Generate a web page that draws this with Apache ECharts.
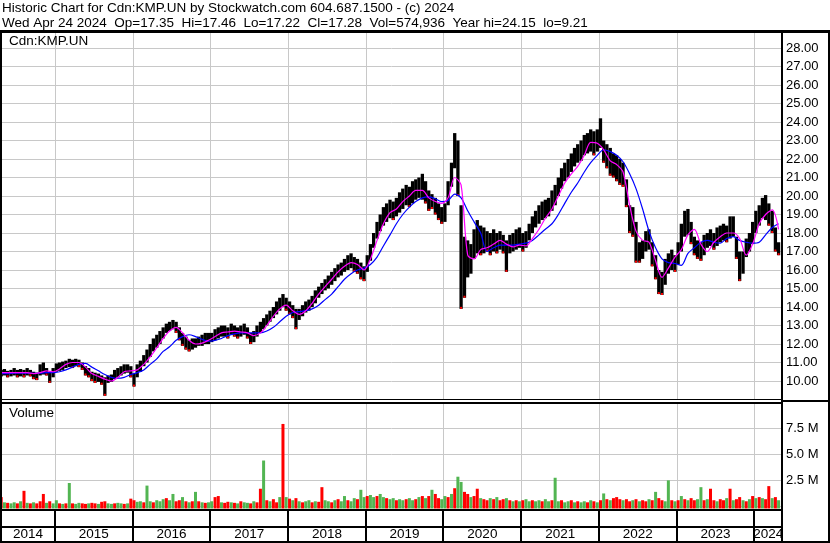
<!DOCTYPE html>
<html><head><meta charset="utf-8">
<script src="https://cdn.jsdelivr.net/npm/echarts@6/dist/echarts.min.js"></script>
<style>html,body{margin:0;padding:0;background:#fff}#c{width:830px;height:543px}</style>
</head><body><div id="c"></div>
<script>
const titleLine1 = 'Historic Chart for Cdn:KMP.UN by Stockwatch.com 604.687.1500 - (c) 2024';
const titleLine2 = 'Wed Apr 24 2024  Op=17.35  Hi=17.46  Lo=17.22  Cl=17.28  Vol=574,936  Year hi=24.15  lo=9.21';
const symbolLabel = 'Cdn:KMP.UN';
const volumeLabel = 'Volume';
const years = [2014, 2015, 2016, 2017, 2018, 2019, 2020, 2021, 2022, 2023, 2024];
const priceTicks = [10, 11, 12, 13, 14, 15, 16, 17, 18, 19, 20, 21, 22, 23, 24, 25, 26, 27, 28];
const volumeTicks = [2.5, 5, 7.5];
// half-monthly samples from 2014-04-24 to 2024-04-24 (241 samples)
const firstDay = [2014, 3, 24];
const totalDays = 3653;
const lows = [
10.25,10.3,10.2,10.25,10.3,10.2,10.25,10.2,10.3,10.25,
10.1,10.05,10.3,10.35,10.3,9.9,10.2,10.5,10.55,10.6,
10.7,10.75,10.7,10.8,10.75,10.6,10.3,10.2,10.0,9.9,
9.95,9.8,9.2,9.9,9.95,10.1,10.2,10.3,10.4,10.45,
10.2,9.7,10.2,10.5,10.8,11.0,11.3,11.6,11.8,12.0,
12.3,12.6,12.7,12.8,12.6,12.2,11.9,11.7,11.6,11.7,
11.8,11.9,11.9,12.0,12.0,12.1,12.2,12.3,12.4,12.4,
12.3,12.5,12.4,12.3,12.4,12.5,12.3,12.0,12.1,12.4,
12.6,12.8,13.0,13.2,13.4,13.6,13.8,14.0,13.8,13.6,
13.4,12.8,13.3,13.5,13.7,13.8,14.0,14.2,14.5,14.7,
14.9,15.0,15.2,15.4,15.6,15.7,15.9,16.0,16.1,15.9,
15.8,15.5,15.4,15.9,16.5,17.2,17.7,18.1,18.4,18.6,
18.8,18.7,18.9,19.1,19.3,19.5,19.4,19.6,19.8,19.9,
19.8,19.6,19.2,19.3,19.0,18.7,18.5,18.6,19.5,20.5,
21.5,20.0,13.9,14.5,15.6,15.8,16.6,16.9,16.8,16.9,
17.0,16.8,17.0,16.9,17.1,16.9,15.9,16.9,17.0,17.1,
17.2,17.0,17.2,17.6,18.0,18.3,18.5,18.7,18.8,18.9,
19.2,19.5,20.0,20.4,20.8,21.0,21.3,21.6,21.8,21.9,
22.2,22.3,22.4,22.2,22.4,22.6,21.8,21.5,21.1,21.0,
20.8,20.6,20.5,19.4,18.0,17.8,16.4,16.4,16.6,17.0,
17.1,16.2,15.5,14.7,14.65,15.2,15.8,16.0,15.9,16.3,
17.0,17.8,17.9,17.4,16.8,16.6,16.5,16.8,17.2,17.3,
17.1,17.3,17.5,17.6,17.5,17.7,17.8,16.6,15.4,15.8,
16.7,17.0,17.4,18.0,18.4,18.8,18.7,18.4,18.0,17.0,
16.8];
const highs = [
10.6,10.65,10.55,10.6,10.7,10.6,10.65,10.6,10.7,10.6,
10.5,10.45,10.9,11.0,10.7,10.5,10.7,10.95,11.0,11.05,
11.1,11.2,11.15,11.2,11.15,11.0,10.8,10.7,10.5,10.45,
10.4,10.3,10.2,10.3,10.35,10.6,10.7,10.8,10.9,10.9,
10.8,10.4,10.9,11.1,11.4,11.7,12.0,12.3,12.5,12.7,
12.9,13.1,13.2,13.3,13.2,12.9,12.6,12.4,12.2,12.3,
12.3,12.4,12.5,12.6,12.6,12.6,12.8,12.9,13.0,13.0,
12.9,13.1,13.0,12.9,13.0,13.1,12.9,12.6,12.7,13.0,
13.2,13.4,13.6,13.8,14.0,14.3,14.5,14.7,14.5,14.3,
14.1,13.9,13.9,14.1,14.3,14.4,14.6,14.9,15.1,15.3,
15.5,15.7,15.9,16.1,16.3,16.4,16.6,16.8,16.9,16.7,
16.6,16.4,16.2,16.8,17.4,18.0,18.6,19.0,19.4,19.6,
19.8,19.7,19.9,20.2,20.4,20.6,20.5,20.8,20.9,21.0,
21.2,20.8,20.3,20.1,19.9,19.6,19.4,19.6,20.8,21.8,
23.4,23.0,19.5,17.8,17.6,17.4,18.2,18.7,18.4,18.3,
18.1,18.0,18.2,18.0,18.1,17.9,17.6,17.9,18.0,18.2,
18.3,18.0,18.1,18.5,18.9,19.2,19.5,19.7,19.8,19.9,
20.3,20.6,21.0,21.5,21.8,22.0,22.3,22.6,22.8,23.0,
23.3,23.4,23.6,23.5,23.6,24.2,23.0,22.8,22.6,22.3,
22.2,22.0,21.8,20.9,19.5,19.4,18.6,17.5,17.6,18.1,
18.2,17.5,16.8,16.0,15.9,16.6,16.9,17.1,16.8,17.5,
18.5,19.2,19.3,18.6,17.8,17.6,17.5,17.9,18.0,18.2,
18.0,18.3,18.4,18.5,18.4,18.9,18.9,17.8,17.0,17.0,
17.7,18.0,18.6,19.2,19.5,19.9,20.05,19.6,19.2,18.3,
17.5];
// volume in millions
const volumes = [
0.9,0.4,0.35,0.3,0.4,0.3,0.5,1.5,0.35,0.3,
0.4,0.3,0.5,1.2,0.35,0.5,0.3,0.6,0.3,0.25,
0.3,2.25,0.3,0.25,0.35,0.3,0.25,0.3,0.35,0.3,
0.25,0.45,0.5,0.3,0.25,0.3,0.35,0.3,0.25,0.3,
0.75,0.6,0.45,0.5,0.4,2.0,0.5,0.4,0.6,0.5,
0.7,0.8,0.6,1.2,0.5,0.6,0.9,0.5,0.4,0.5,
1.4,0.5,0.4,0.35,0.4,0.5,0.9,1.0,0.4,0.35,
0.45,0.4,0.35,0.3,0.5,0.4,0.35,0.3,0.5,0.4,
1.7,4.4,0.6,0.5,0.7,0.4,0.9,7.9,0.9,0.75,
0.6,0.8,0.5,0.4,0.5,0.6,0.4,0.5,0.45,1.85,
0.6,0.5,0.4,0.6,0.7,0.5,1.0,0.6,0.5,0.8,
0.7,1.6,0.9,1.0,1.1,0.9,1.0,1.2,0.9,0.8,
0.7,0.8,0.6,0.7,0.6,0.7,0.8,0.6,0.7,0.9,
1.0,0.8,1.0,1.6,1.2,0.8,0.7,1.0,0.9,1.2,
1.75,2.85,2.35,1.4,1.2,0.9,1.0,1.7,0.8,0.7,
0.6,0.8,0.7,0.9,0.6,0.7,0.8,0.6,0.5,0.6,
0.5,0.6,0.7,0.5,0.6,0.5,0.6,0.5,0.7,0.5,
0.6,2.75,0.5,0.6,0.4,0.5,0.6,0.4,0.5,0.4,
0.5,0.4,0.6,0.5,0.4,0.6,1.25,0.7,0.6,0.8,
0.9,0.7,0.6,0.7,0.5,0.6,0.7,0.5,0.6,0.5,
0.7,0.6,1.4,0.8,0.6,0.5,2.5,0.6,0.5,0.6,
1.0,0.7,0.6,0.8,0.6,0.7,1.85,0.6,0.7,1.7,
0.6,0.5,0.7,0.6,0.8,1.7,0.6,0.7,0.9,0.6,
0.5,0.7,1.0,0.8,0.9,0.8,0.7,1.95,0.8,0.9,
0.6];
// volume bar colour per sample: r = down (red), g = up (green)
const volumeSide =
'rgrggrgrgr' + 'grrrgrggrg' + 'rgrggrrgrr' + 'grrggrggrg' + 'rrggrggrgg' +
'grggrrgrgr' + 'grgrggrrgr' + 'rgrgrggrgr' + 'rgrgrrgrgr' + 'grgrggrgrr' +
'ggrgrggrgg' + 'rggrggrggr' + 'ggrggrggrg' + 'rgrgrrggrg' + 'rggrrgrrgr' +
'rgrgrrgrgr' + 'grggrggrgg' + 'rggrggrgrg' + 'grgrgrgrgr' + 'rrgrrgrgrr' +
'grgrrggrgr' + 'grgrrggrgr' + 'rgrrgrgrrg' + 'rgrgrgrrgr' + 'g';
// moving averages, read at every second sample
const fastMA = [
10.45,10.45,10.45,10.45,10.45,10.4,10.45,10.55,10.5,10.65,
10.9,11.0,11.0,10.75,10.4,10.25,10.1,10.0,10.2,10.5,
10.55,10.6,10.9,11.3,11.8,12.3,12.7,12.9,12.6,12.2,
12.0,12.05,12.2,12.4,12.6,12.65,12.7,12.65,12.6,12.45,
12.6,13.0,13.5,13.9,14.1,13.8,13.6,13.8,14.2,14.7,
15.1,15.5,15.9,16.2,16.4,16.3,16.0,16.6,17.6,18.5,
19.1,19.3,19.7,20.0,20.3,20.3,19.9,19.7,19.6,19.9,
21.0,20.6,16.8,16.6,17.1,17.2,17.4,17.6,17.4,17.25,
17.35,17.3,17.7,18.2,18.8,19.3,20.0,20.7,21.2,21.6,
22.2,22.9,22.85,22.5,21.9,21.7,21.3,19.5,18.1,17.6,
17.5,16.5,15.6,16.1,16.7,17.1,17.9,18.2,17.4,17.0,
17.5,17.8,18.0,18.0,17.7,16.8,17.4,18.5,19.0,19.25,
18.2];
const slowMA = [
10.4,10.4,10.42,10.42,10.42,10.42,10.42,10.45,10.45,10.5,
10.6,10.75,10.9,10.95,10.75,10.55,10.35,10.2,10.15,10.2,
10.35,10.45,10.6,10.9,11.2,11.6,11.85,12.2,12.4,12.5,
12.4,12.25,12.15,12.2,12.3,12.45,12.55,12.6,12.6,12.6,
12.6,12.7,12.9,13.2,13.5,13.7,13.75,13.8,13.9,14.1,
14.4,14.7,15.1,15.5,15.8,16.0,16.1,16.3,16.7,17.3,
17.9,18.5,19.0,19.4,19.7,19.9,19.95,19.85,19.7,19.75,
20.1,19.9,19.2,18.6,18.0,17.0,17.2,17.35,17.35,17.35,
17.4,17.45,17.6,17.9,18.2,18.5,19.0,19.6,20.2,20.7,
21.3,21.8,22.2,22.5,22.4,22.2,21.85,21.2,20.4,19.3,
18.1,17.2,16.6,16.4,16.35,16.25,16.9,17.2,17.5,17.6,
17.5,17.45,17.7,17.8,17.6,17.5,17.45,17.5,17.9,18.3,
18.5];

const DAY = 86400000;
const t0 = Date.UTC(firstDay[0], firstDay[1], firstDay[2]);
const times = lows.map((_, i) => t0 + Math.round(i * totalDays / (lows.length - 1)) * DAY);
const mid = i => (lows[i] + highs[i]) / 2;
const isDown = lows.map((_, i) => (i > 0 && mid(i) < mid(i - 1)) ? 1 : 0);
const priceData = lows.map((lo, i) => [times[i], lo, highs[i], isDown[i]]);
const volData = volumes.map((v, i) => [times[i], v, volumeSide[i] === 'r' ? 1 : 0]);
const fastData = fastMA.map((v, k) => [times[2 * k], v]);
const slowData = slowMA.map((v, k) => [times[2 * k], v]);
const yearLineData = years.slice(1).map(y => [Date.UTC(y, 0, 1), 10, y]);
const yearLineDataVol = years.slice(1).map(y => [Date.UTC(y, 0, 1), 1, y]);
const yearCellData = years.map(y => [Date.UTC(y, 0, 1), 0.5, y]);

const FONT = '"Liberation Sans", Arial, sans-serif';
const TFONT = '13.5px ' + FONT;
const xMin = Date.UTC(2014, 3, 23), xMax = Date.UTC(2024, 4, 10);
const GRID = '#c8c8c8';

function timeAxis(gi) {
  return { gridIndex: gi, type: 'time', min: xMin, max: xMax, show: false,
    splitLine: { show: false }, axisLabel: { show: false }, axisTick: { show: false } };
}
function yearLines(params, api) {
  const cs = params.coordSys;
  const p = api.coord([api.value(0), api.value(1)]);
  const x = Math.round(p[0]) + 0.5;
  return { type: 'line', shape: { x1: x, y1: cs.y, x2: x, y2: cs.y + cs.height },
    style: { stroke: GRID, lineWidth: 1 } };
}

const chart = echarts.init(document.getElementById('c'), null, { renderer: 'canvas' });
chart.setOption({
  animation: false,
  useUTC: true,
  backgroundColor: '#fff',
  grid: [
    { left: 1, right: 48, top: 29.5, height: 370 },
    { left: 1, right: 48, top: 402, height: 104.5 },
    { left: 1, right: 48, top: 509, height: 33 }
  ],
  xAxis: [timeAxis(0), timeAxis(1), timeAxis(2)],
  yAxis: [
    { gridIndex: 0, type: 'value', position: 'right', min: 9, max: 29, interval: 1,
      axisLine: { show: false }, axisTick: { show: false },
      splitLine: { lineStyle: { color: GRID, width: 1 } },
      axisLabel: { margin: 4, color: '#000', fontSize: 13, fontFamily: FONT,
        formatter: v => priceTicks.includes(v) ? v.toFixed(2) : '' } },
    { gridIndex: 1, type: 'value', position: 'right', min: 0, max: 10, interval: 2.5,
      axisLine: { show: false }, axisTick: { show: false },
      splitLine: { lineStyle: { color: GRID, width: 1 } },
      axisLabel: { margin: 4, color: '#000', fontSize: 13, fontFamily: FONT,
        formatter: v => volumeTicks.includes(v) ? v.toFixed(1) + ' M' : '' } },
    { gridIndex: 2, type: 'value', min: 0, max: 1, show: false, splitLine: { show: false } }
  ],
  series: [
    { type: 'custom', xAxisIndex: 0, yAxisIndex: 0, z: 1, data: yearLineData, renderItem: yearLines, silent: true },
    { type: 'custom', xAxisIndex: 1, yAxisIndex: 1, z: 1, data: yearLineDataVol, renderItem: yearLines, silent: true },
    { type: 'custom', xAxisIndex: 0, yAxisIndex: 0, z: 3, data: priceData, silent: true,
      encode: { x: 0, y: [1, 2] },
      renderItem(params, api) {
        const hi = api.coord([api.value(0), api.value(2)]);
        const lo = api.coord([api.value(0), api.value(1)]);
        const children = [{ type: 'rect', shape: { x: hi[0] - 1.65, y: hi[1], width: 3.3, height: Math.max(1, lo[1] - hi[1]) },
          style: { fill: '#000' } }];
        if (api.value(3)) {
          children.push({ type: 'rect', shape: { x: lo[0] - 1, y: lo[1] - 2, width: 2, height: 2 }, style: { fill: '#ff0000' } });
        }
        return { type: 'group', children };
      } },
    { type: 'line', xAxisIndex: 0, yAxisIndex: 0, z: 4, data: slowData, showSymbol: false, symbol: 'none',
      lineStyle: { color: '#0000ff', width: 1.2 }, silent: true, smooth: 0.3 },
    { type: 'line', xAxisIndex: 0, yAxisIndex: 0, z: 5, data: fastData, showSymbol: false, symbol: 'none',
      lineStyle: { color: '#ff00ff', width: 1.2 }, silent: true, smooth: 0.3 },
    { type: 'custom', xAxisIndex: 1, yAxisIndex: 1, z: 3, data: volData, silent: true,
      encode: { x: 0, y: 1 },
      renderItem(params, api) {
        const top = api.coord([api.value(0), api.value(1)]);
        const base = api.coord([api.value(0), 0]);
        return { type: 'rect', shape: { x: top[0] - 1.5, y: top[1], width: 3, height: base[1] - top[1] + 2 },
          style: { fill: api.value(2) ? '#ff0000' : '#52b552' } };
      } },
    { type: 'custom', xAxisIndex: 2, yAxisIndex: 2, z: 3, data: yearCellData, silent: true, clip: false,
      renderItem(params, api) {
        const cs = params.coordSys;
        const y = api.value(2);
        let s = api.coord([Date.UTC(y, 0, 1), 0])[0];
        let e = api.coord([Date.UTC(y + 1, 0, 1), 0])[0];
        s = Math.max(s, cs.x); e = Math.min(e, cs.x + cs.width);
        const children = [{ type: 'text', x: (s + e) / 2, y: 534.5,
          style: { text: String(y), font: TFONT, fill: '#000', align: 'center', verticalAlign: 'middle' } }];
        if (s > cs.x + 2) {
          children.push({ type: 'rect', shape: { x: Math.round(s) - 1, y: 509, width: 2, height: 33 }, style: { fill: '#000' } });
        }
        return { type: 'group', children };
      } }
  ],
  graphic: { elements: [
    { type: 'rect', z: 50, shape: { x: 0, y: 0, width: 830, height: 30 }, style: { fill: '#fff' } },
    { type: 'text', z: 101, x: 2, y: 8.5, style: { text: titleLine1, font: TFONT, fill: '#000', verticalAlign: 'middle' } },
    { type: 'text', z: 101, x: 2, y: 23, style: { text: titleLine2, font: TFONT, fill: '#000', verticalAlign: 'middle' } },
    { type: 'text', z: 101, x: 9, y: 41.5, style: { text: symbolLabel, font: TFONT, fill: '#000', verticalAlign: 'middle' } },
    { type: 'text', z: 101, x: 9, y: 413.5, style: { text: volumeLabel, font: TFONT, fill: '#000', verticalAlign: 'middle' } },
    { type: 'rect', z: 100, shape: { x: 0, y: 30, width: 830, height: 3 }, style: { fill: '#000' } },
    { type: 'rect', z: 100, shape: { x: 0, y: 30, width: 2, height: 513 }, style: { fill: '#000' } },
    { type: 'rect', z: 100, shape: { x: 781, y: 30, width: 2, height: 513 }, style: { fill: '#000' } },
    { type: 'rect', z: 100, shape: { x: 828, y: 30, width: 2, height: 513 }, style: { fill: '#000' } },
    { type: 'rect', z: 100, shape: { x: 0, y: 541, width: 830, height: 2 }, style: { fill: '#000' } },
    { type: 'rect', z: 100, shape: { x: 0, y: 399, width: 782, height: 1 }, style: { fill: '#000' } },
    { type: 'rect', z: 100, shape: { x: 0, y: 402, width: 782, height: 2 }, style: { fill: '#000' } },
    { type: 'rect', z: 100, shape: { x: 782, y: 400, width: 48, height: 2 }, style: { fill: '#000' } },
    { type: 'rect', z: 100, shape: { x: 0, y: 509, width: 782, height: 2 }, style: { fill: '#000' } },
    { type: 'rect', z: 100, shape: { x: 0, y: 526, width: 782, height: 2 }, style: { fill: '#000' } }
  ] }
});
</script></body></html>
